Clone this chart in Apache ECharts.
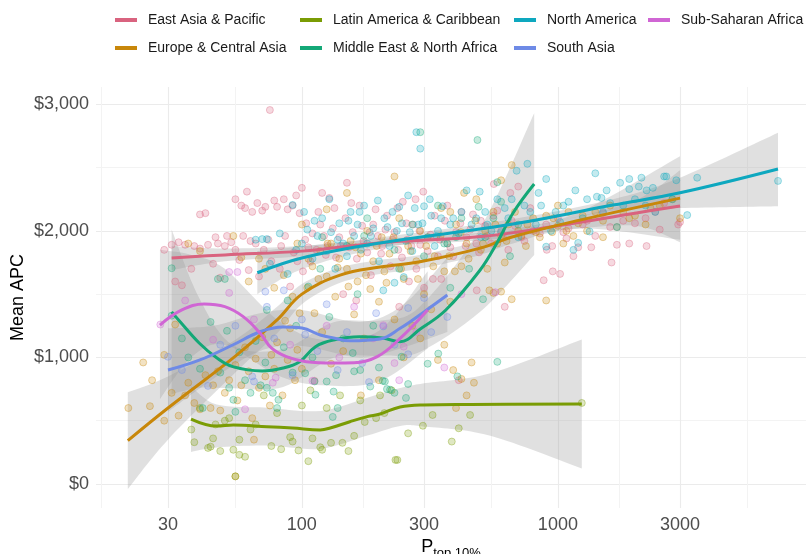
<!DOCTYPE html>
<html>
<head>
<meta charset="utf-8">
<script src="https://cdn.jsdelivr.net/npm/echarts@6/dist/echarts.min.js"></script>
<style>
  html, body { margin: 0; padding: 0; background: #fff; }
  #chart { width: 808px; height: 554px; }
</style>
</head>
<body>
<div id="chart"></div>
<script>
// regions, in legend order
const regions = ['East Asia & Pacific', 'Europe & Central Asia', 'Latin America & Caribbean',
    'Middle East & North Africa', 'North America', 'South Asia', 'Sub-Saharan Africa'];
const regionColors = ['#D9637F', '#C8870A', '#7A9C04', '#14A877', '#0EA8BF', '#6E8AE6', '#D066D4'];

const xTicks = [30, 100, 300, 1000, 3000];
const xMinorTicks = [16.43, 54.77, 173.2, 547.7, 1732, 5477];
const yTicks = [0, 1000, 2000, 3000];
const yMinorTicks = [500, 1500, 2500];

// scatter points: [P top 10%, mean APC]
const eapPoints = [[29,1850],[31,1890],[32,1600],[33,1910],[34,1570],[35,1890],[37,1700],[38,1880],[40,1860],[40,2130],
    [42,2140],[43,1890],[45,1740],[46,1950],[47,1900],[48,1630],[50,1880],[51,1960],[53,1910],[55,1850],[55,2250],
    [57,1770],[58,2200],[59,1960],[60,2180],[61,2310],[62,1690],[63,1920],[64,2150],[66,1900],[67,2220],[68,1640],
    [70,2160],[71,1850],[72,2190],[74,1930],[75,2955],[76,1760],[78,2240],[80,2190],[82,1700],[83,1880],[85,2250],
    [86,1960],[88,2170],[90,1560],[92,2200],[93,1830],[95,2280],[96,1760],[98,2140],[100,2340],[101,1680],[103,1930],
    [106,1870],[110,1980],[112,815],[114,1850],[118,2050],[120,2300],[122,1960],[126,1880],[128,2260],[132,2020],
    [136,1790],[140,1950],[145,1500],[148,2100],[150,2380],[153,1870],[158,1990],[163,1450],[168,2200],[174,1920],
    [180,1830],[186,1650],[190,2050],[198,1960],[206,1880],[215,2120],[222,1720],[230,1990],[238,1850],[240,1400],
    [248,2230],[258,1930],[262,1600],[272,2050],[280,1700],[290,1890],[298,2310],[300,1550],[318,1970],[325,1620],
    [340,1800],[350,1620],[362,2080],[380,1870],[400,1990],[410,820],[420,2150],[440,1950],[455,2010],[480,1900],
    [482,1530],[500,2080],[530,1960],[560,2120],[562,2370],[600,2000],[620,1400],[640,1850],[652,2300],[680,2040],
    [700,2350],[720,1950],[780,2180],[850,1980],[880,1610],[900,2050],[905,1850],[950,1880],[955,1680],[1000,2100],
    [1020,1660],[1050,1990],[1100,2020],[1150,1800],[1200,1870],[1300,2080],[1400,1960],[1500,2140],[1600,2030],
    [1620,1750],[1700,1890],[1900,1900],[2000,2060],[2200,2100],[2220,1880],[2500,2010],[2600,2220],[2950,2050],[3000,2070],
    [104,2060],[108,1760],[116,2150],[124,1810],[134,2180],[142,1880],[156,2220],[164,1780],[172,2040],[184,1990],
    [194,2170],[204,1820],[212,2010],[226,1930],[236,2180],[246,1790],[256,2060],[268,1880],[278,2250],[288,2000],
    [310,1840],[330,2120],[346,1930],[370,2200],[390,1800],[416,2060],[436,1880],[466,2130],[492,1830],[520,2040],
    [548,1900],[580,2160],[610,1950],[660,2080],[740,1920],[800,2000],[1080,1940],[1250,2050],[1350,1870],[1800,2080],[2400,2150]];
const ecaPoints = [[21,600],[24,960],[25.5,615],[26,820],[29,500],[29,1020],[31,720],[32,1260],[33,540],[35,700],
    [36,800],[36,1900],[38,640],[40,590],[40,1840],[42,860],[44,600],[45,780],[47,890],[48,580],[50,720],[52,820],
    [54,1960],[55,940],[55,60],[56,660],[58,780],[58,1790],[60,1080],[62,890],[62,1600],[64,520],[65,350],[66,990],
    [68,760],[68,1780],[70,1160],[72,850],[72,1700],[75,620],[76,1020],[78,910],[78,1550],[80,1120],[84,700],[85,1650],
    [86,1290],[88,980],[90,1230],[92,1480],[94,820],[96,1060],[96,1900],[98,1350],[100,910],[100,2050],
    [105,1550],[110,1720],[112,1350],[118,1840],[120,1200],[125,1640],[125,2170],[130,1900],[130,950],[135,1480],
    [140,1780],[145,1050],[150,1700],[150,2300],[155,1920],[160,1340],[165,1600],[170,1820],[170,700],[175,1150],
    [180,2000],[185,1540],[190,1760],[200,1440],[200,820],[205,1950],[210,1680],[220,1820],[230,1300],[230,2430],
    [240,2100],[250,1620],[250,1000],[260,1880],[270,1250],[280,1760],[290,2000],[290,1150],[300,1500],[310,1950],
    [320,1380],[330,1800],[340,980],[350,2180],[360,1680],[360,1100],[370,1900],[380,1440],[380,2150],[390,900],
    [400,2050],[400,600],[420,1720],[420,830],[430,2300],[440,1900],[440,700],[460,960],[470,800],[480,2250],
    [500,1850],[520,2000],[540,1530],[560,2150],[560,1510],[580,1900],[600,1960],[600,1520],[600,2400],[620,1750],
    [640,2050],[660,2520],[660,1460],[700,2000],[720,1960],[750,1880],[800,2100],[850,1950],[900,2120],[900,1450],
    [950,1990],[1000,2040],[1000,2200],[1050,1900],[1100,2150],[1150,1960],[1200,2060],[1300,2000],[1400,2150],
    [1500,2080],[1600,2200],[1700,2030],[1800,2150],[2000,2120],[2200,2050],[2500,2200],[3000,2100],
    [106,1780],[116,1620],[126,1900],[138,1710],[152,1560],[162,1870],[178,1650],[196,1880],[214,1590],[228,1950],
    [244,1700],[266,1840],[284,1620],[306,1880],[326,1720],[348,1960],[376,1800],[396,1680],[418,1990],[448,1780],
    [476,2080],[510,1900],[530,1700],[570,2050],[630,1920],[680,2150],[760,2050],[820,1990],[960,2100],[1080,2000],
    [1250,2120],[1500,1950],[1900,2100],[2300,2180],[2800,2250]];
const lacPoints = [[37,430],[38,330],[40,600],[43,285],[44,295],[45,360],[46,470],[48,260],[50,500],[52,520],
    [54,270],[55,60],[57,230],[57,350],[60,215],[63,430],[66,470],[71,700],[76,300],[80,560],[83,275],[90,370],
    [92,335],[97,265],[100,620],[106,180],[108,740],[110,360],[118,290],[120,270],[125,600],[130,325],[141,700],
    [144,325],[152,260],[160,380],[169,660],[176,490],[195,520],[202,700],[210,560],[224,740],[232,190],[236,190],
    [260,400],[297,460],[324,545],[385,335],[410,440],[454,545],[1240,640]];
const menaPoints = [[31,1705],[31,1330],[34,1150],[36,1000],[40,910],[41,600],[44,1280],[47,1620],[48,880],
    [50,1620],[51,1210],[52,760],[54,665],[55,570],[57,1040],[60,820],[63,720],[66,1130],[69,780],[72,960],[73,760],
    [73,1375],[77,720],[80,600],[81,665],[85,1080],[88,1450],[92,880],[95,1250],[103,875],[106,1560],[110,1000],
    [112,810],[113,705],[118,1700],[125,810],[128,1320],[132,530],[133,730],[136,860],[138,600],[145,1150],[150,1880],
    [158,1035],[160,890],[165,1500],[169,900],[175,1960],[185,770],[190,1250],[200,920],[207,815],[211,810],[215,750],
    [221,745],[230,720],[240,1700],[245,1005],[255,680],[260,790],[270,2050],[290,2780],[300,1800],[310,950],
    [341,1030],[360,1900],[380,1550],[405,850],[420,2100],[450,1700],[485,2718],[490,2190],[510,1460],[520,1950],
    [580,965],[580,2385],[600,2230],[650,1800],[700,2050],[120,1950],[180,2100],[230,1850],[340,2200],[400,1950],[560,2100]];
const naPoints = [[66,1930],[70,1935],[73,1935],[75,1740],[82,1980],[88,1660],[92,2205],[95,1850],[100,1900],
    [105,2010],[110,1780],[115,1960],[120,2100],[125,1840],[130,1990],[135,1700],[140,2060],[145,1900],[150,1800],
    [155,2150],[160,1960],[165,2050],[170,1850],[175,2200],[180,1900],[190,2020],[200,1760],[208,1530],[210,2100],
    [220,1880],[230,1590],[235,2000],[240,2190],[250,1635],[255,1920],[260,2280],[270,1840],[280,2780],[285,2050],
    [290,2650],[300,2195],[310,1950],[320,2120],[330,1880],[340,2000],[355,2195],[370,1900],[390,2100],[410,1980],
    [440,2320],[460,2050],[495,2310],[500,1950],[520,2150],[550,2000],[580,2250],[600,1990],[640,2100],[690,2475],
    [700,1950],[760,2530],[780,2150],[820,2050],[860,2200],[900,1875],[900,2410],[940,2000],[980,2150],[1020,2070],
    [1100,2230],[1150,1850],[1170,2320],[1200,1905],[1250,2100],[1330,1995],[1400,2455],[1420,2270],[1480,2260],
    [1500,2150],[1600,2220],[1700,2030],[1750,2380],[1800,2200],[1900,2410],[1900,2330],[2000,2250],[2070,2350],
    [2120,2420],[2220,2320],[2350,2340],[2400,2150],[2600,2430],[2650,2430],[2800,2250],[3200,2125],[3500,2420],[7240,2395],
    [102,2150],[112,2080],[128,2250],[138,1930],[152,2080],[168,2150],[186,1960],[198,2240],[216,2030],[226,2150],
    [246,2060],[264,1990],[276,2180],[296,2060],[316,2250],[336,1960],[350,2100],[380,2050],[420,2150],[480,2100],
    [530,2050],[620,2180],[660,2250],[740,2200],[840,2300],[1050,2200],[1300,2250],[1550,2320],[2200,2200],[2900,2400]];
const saPoints = [[30,1005],[34,900],[43,775],[48,1100],[55,1250],[64,850],[65,810],[72,1520],[73,1400],[78,1150],
    [85,1530],[92,860],[100,1300],[103,1180],[115,1050],[125,1420],[138,900],[150,1200],[172,955],[183,805],
    [195,1350],[208,1245],[230,1100],[260,1025],[260,1390],[300,1470],[320,1200],[370,1320]];
const ssaPoints = [[28,1260],[35,1450],[45,1140],[52,1675],[52,1510],[56,1675],[60,590],[65,1300],[77,800],[79,840],
    [90,1100],[110,815],[125,1250],[140,1000],[160,1400],[190,1150],[208,1255],[230,955],[240,820],[250,1085],
    [280,1200],[360,920],[420,1500],[570,1515]];

// smoothed fits: [P, fit]
const eapFit = [[31,1786],[50,1810],[100,1840],[200,1905],[500,1955],[1000,2040],[2000,2140],[3000,2196]];
const ecaFit = [[20.9,342],[30,600],[55,1010],[80,1296],[100,1500],[141,1650],[202,1714],[289,1756],[497,1864],
    [668,1954],[1219,2085],[3000,2259]];
const lacFit = [[36.9,513],[46.5,458],[54,466],[73,453],[92,442],[118,427],[129,442],[154,492],[180,532],[202,553],
    [242,608],[297,624],[454,628],[1240,632]];
const menaFit = [[31,1360],[33,1296],[39.7,1114],[46.6,995],[53.7,927],[70,893],[84.5,916],[98,966],[113,1085],
    [133,1138],[168,1164],[207,1153],[242,1124],[290,1225],[365,1375],[497,1691],[578,1904],[668,2141],[808,2370]];
const naFit = [[67,1669],[100,1786],[202,1904],[668,2054],[1640,2204],[3000,2301],[7240,2489]];
const saFit = [[30,900],[40,980],[53.7,1098],[68.6,1203],[84.5,1240],[100,1232],[118,1177],[133,1153],[154,1132],
    [202,1146],[242,1230],[300,1360],[370,1493]];
const ssaFit = [[27.9,1256],[34,1375],[41.5,1422],[50,1401],[59,1322],[68.6,1193],[76,1075],[87,1006],[104,966],
    [133,956],[160,958],[197,1006],[242,1150],[310,1375]];

// confidence bands: lower edge [P, lower] and upper values at the same P
const eapBandLo = [[31,1690],[50,1760],[100,1800],[200,1875],[500,1925],[1000,2000],[2000,2040],[3000,1910]];
const eapBandHi = [1880, 1860, 1880, 1935, 1985, 2080, 2240, 2480];
const ecaBandLo = [[20.9,-40],[30,350],[55,880],[80,1190],[100,1420],[141,1590],[202,1660],[289,1700],[497,1810],
    [668,1900],[1219,2020],[3000,1930]];
const ecaBandHi = [725, 850, 1140, 1400, 1580, 1710, 1770, 1810, 1920, 2010, 2150, 2590];
const lacBandLo = [[36.9,253],[46.5,288],[73,303],[118,277],[180,382],[242,458],[297,454],[540,383],[1240,122]];
const lacBandHi = [773, 628, 603, 577, 682, 758, 794, 873, 1142];
const menaBandLo = [[31,710],[39.7,760],[53.7,757],[84.5,766],[133,998],[207,1013],[290,1045],[497,1360],[808,1810]];
const menaBandHi = [2010, 1470, 1097, 1066, 1278, 1293, 1405, 2020, 2930];
const naBandLo = [[67,1500],[100,1696],[202,1860],[668,2014],[1640,2160],[3000,2180],[7240,2195]];
const naBandHi = [1840, 1876, 1948, 2094, 2250, 2420, 2775];
const saBandLo = [[30,570],[45,830],[68.6,1050],[100,1090],[170,1000],[250,1080],[370,1200]];
const saBandHi = [1230, 1250, 1350, 1375, 1280, 1420, 1790];
const ssaBandLo = [[27.9,670],[37,1000],[50,1100],[80,860],[120,780],[200,810],[310,1070]];
const ssaBandHi = [1850, 1810, 1700, 1300, 1140, 1210, 1680];

const pointSets = [eapPoints, ecaPoints, lacPoints, menaPoints, naPoints, saPoints, ssaPoints];
const fits = [eapFit, ecaFit, lacFit, menaFit, naFit, saFit, ssaFit];
const bandLows = [eapBandLo, ecaBandLo, lacBandLo, menaBandLo, naBandLo, saBandLo, ssaBandLo];
const bandHighs = [eapBandHi, ecaBandHi, lacBandHi, menaBandHi, naBandHi, saBandHi, ssaBandHi];

function fade(hex, a) {
    const n = parseInt(hex.slice(1), 16);
    return 'rgba(' + (n >> 16) + ',' + ((n >> 8) & 255) + ',' + (n & 255) + ',' + a + ')';
}

// catmull-rom through screen points, as svg cubic segments
function curveTo(pts) {
    let d = '';
    for (let i = 0; i < pts.length - 1; i++) {
        const p0 = pts[i - 1] || pts[i], p1 = pts[i], p2 = pts[i + 1], p3 = pts[i + 2] || p2;
        const c1x = p1[0] + (p2[0] - p0[0]) / 6, c1y = p1[1] + (p2[1] - p0[1]) / 6;
        const c2x = p2[0] - (p3[0] - p1[0]) / 6, c2y = p2[1] - (p3[1] - p1[1]) / 6;
        d += ' C ' + c1x + ' ' + c1y + ' ' + c2x + ' ' + c2y + ' ' + p2[0] + ' ' + p2[1];
    }
    return d;
}

function bandSeries(i) {
    const band = bandLows[i].map((d, k) => [d[0], d[1], bandHighs[i][k]]);
    return {
        type: 'custom',
        name: regions[i] + ' band',
        silent: true,
        clip: true,
        data: band,
        encode: { x: 0, y: [1, 2] },
        renderItem(params, api) {
            if (params.dataIndex !== 0) return null;
            const upper = band.map(d => api.coord([d[0], d[2]]));
            const lower = band.map(d => api.coord([d[0], d[1]])).reverse();
            const path = 'M ' + upper[0][0] + ' ' + upper[0][1] + curveTo(upper) +
                ' L ' + lower[0][0] + ' ' + lower[0][1] + curveTo(lower) + ' Z';
            return {
                type: 'path',
                shape: { pathData: path },
                style: { fill: 'rgba(153,153,153,0.3)' }
            };
        }
    };
}

const series = [];
regions.forEach((r, i) => {
    series.push({
        type: 'scatter',
        name: r + ' points',
        data: pointSets[i],
        symbolSize: 7,
        silent: true,
        itemStyle: { color: fade(regionColors[i], 0.3), borderColor: fade(regionColors[i], 0.45), borderWidth: 1 }
    });
});
regions.forEach((r, i) => {
    series.push(bandSeries(i));
    series.push({
        type: 'line',
        name: r,
        data: fits[i],
        smooth: 0.4,
        showSymbol: false,
        silent: true,
        color: regionColors[i],
        lineStyle: { width: 3, color: regionColors[i] }
    });
});

const legendBase = {
    orient: 'vertical',
    top: 7,
    itemGap: 12,
    icon: 'rect',
    itemWidth: 22,
    itemHeight: 4,
    selectedMode: false,
    textStyle: { fontSize: 14, color: '#1A1A1A', lineHeight: 16, padding: [0, 0, 0, 6] }
};

const option = {
    animation: false,
    textStyle: { fontFamily: 'Liberation Sans, Arial, sans-serif' },
    legend: [
        Object.assign({ left: 110, data: [regions[0], regions[1]] }, legendBase),
        Object.assign({ left: 295, data: [regions[2], regions[3]] }, legendBase),
        Object.assign({ left: 509, data: [regions[4], regions[5]] }, legendBase),
        Object.assign({ left: 643, data: [regions[6]] }, legendBase)
    ],
    grid: { left: 96, right: 2, top: 87, bottom: 46, outerBoundsMode: 'none' },
    xAxis: [
        {
            type: 'log', min: 15.70, max: 9313,
            axisLine: { show: false },
            axisTick: { show: false, customValues: xTicks },
            axisLabel: { customValues: xTicks, color: '#4D4D4D', fontSize: 18, margin: 8, formatter: v => String(v) },
            splitLine: { show: true, lineStyle: { color: '#EBEBEB', width: 1.1 } },
            name: '{p|P}{s|top 10%}',
            nameLocation: 'middle',
            nameGap: 30,
            nameMoveOverlap: false,
            nameTextStyle: {
                rich: {
                    p: { fontSize: 18, color: '#000', lineHeight: 18, verticalAlign: 'top' },
                    s: { fontSize: 13, color: '#000', lineHeight: 22, verticalAlign: 'bottom' }
                }
            }
        },
        {
            type: 'log', min: 15.70, max: 9313,
            axisLine: { show: false },
            axisTick: { show: false, customValues: xMinorTicks },
            axisLabel: { show: false, customValues: xMinorTicks },
            splitLine: { show: true, lineStyle: { color: '#F3F3F3', width: 1 } }
        }
    ],
    yAxis: [
        {
            type: 'value', min: -190, max: 3137,
            axisLine: { show: false },
            axisTick: { show: false, customValues: yTicks },
            axisLabel: {
                customValues: yTicks, color: '#4D4D4D', fontSize: 18, margin: 7,
                formatter: v => '$' + Number(v).toLocaleString('en-US')
            },
            splitLine: { show: true, lineStyle: { color: '#EBEBEB', width: 1.1 } },
            name: 'Mean APC',
            nameLocation: 'middle',
            nameGap: 69,
            nameMoveOverlap: false,
            nameTextStyle: { fontSize: 18, color: '#000' }
        },
        {
            type: 'value', min: -190, max: 3137, position: 'left',
            axisLine: { show: false },
            axisTick: { show: false, customValues: yMinorTicks },
            axisLabel: { show: false, customValues: yMinorTicks },
            splitLine: { show: true, lineStyle: { color: '#F3F3F3', width: 1 } }
        }
    ],
    series: series
};

const chart = echarts.init(document.getElementById('chart'));
chart.setOption(option);
</script>
</body>
</html>
